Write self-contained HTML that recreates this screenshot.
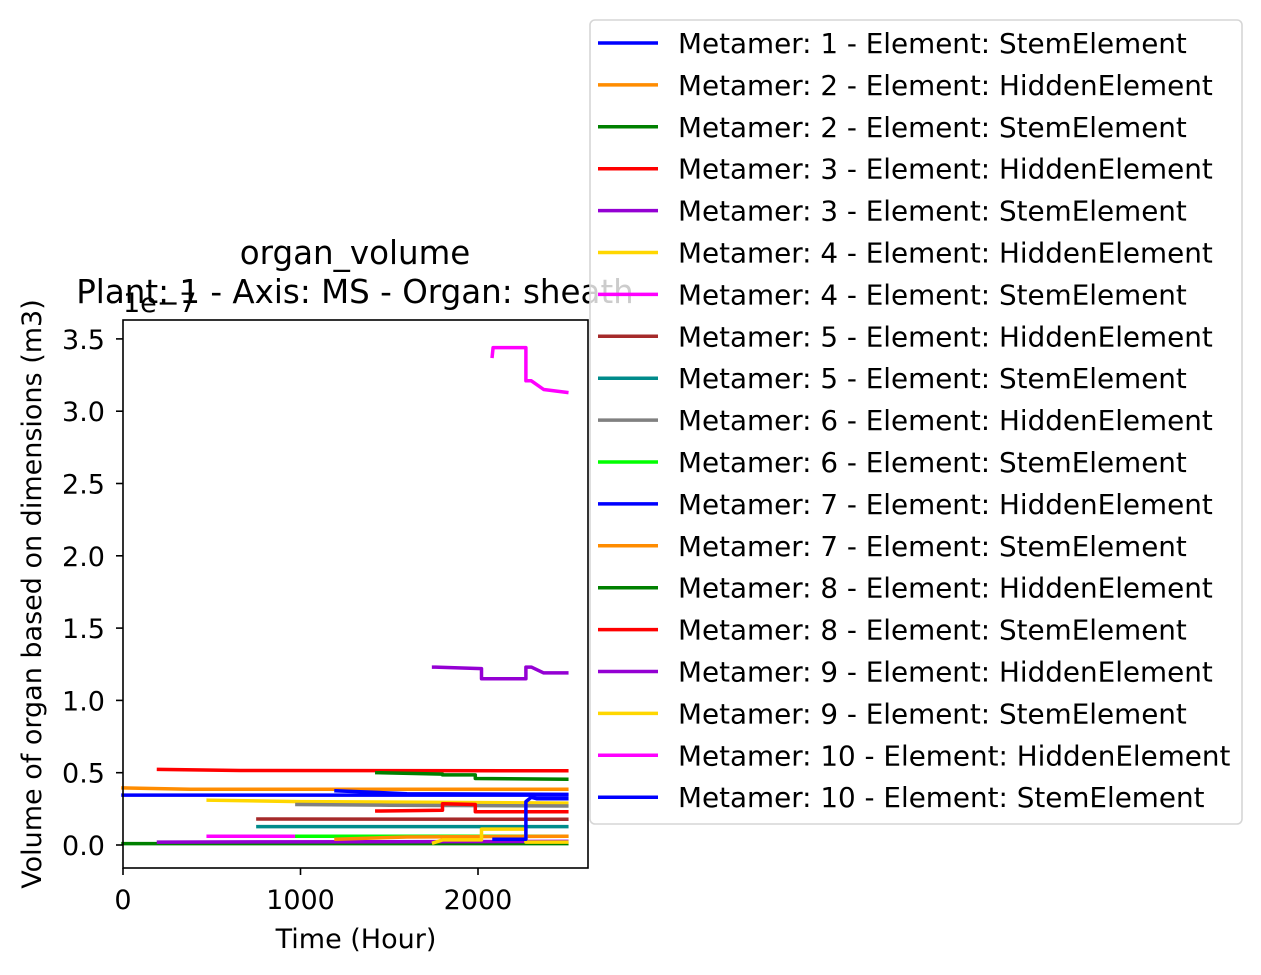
<!DOCTYPE html>
<html><head><meta charset="utf-8"><style>
body{margin:0;background:#fff;}
svg{display:block;font-family:"DejaVu Sans","Liberation Sans",sans-serif;}
</style></head><body>
<svg id="chart" width="1261" height="975" xmlns="http://www.w3.org/2000/svg">
<rect width="1261" height="975" fill="#fff"/>
</svg>
<script>
const seriesNames=["Metamer: 1 - Element: StemElement","Metamer: 2 - Element: HiddenElement","Metamer: 2 - Element: StemElement","Metamer: 3 - Element: HiddenElement","Metamer: 3 - Element: StemElement","Metamer: 4 - Element: HiddenElement","Metamer: 4 - Element: StemElement","Metamer: 5 - Element: HiddenElement","Metamer: 5 - Element: StemElement","Metamer: 6 - Element: HiddenElement","Metamer: 6 - Element: StemElement","Metamer: 7 - Element: HiddenElement","Metamer: 7 - Element: StemElement","Metamer: 8 - Element: HiddenElement","Metamer: 8 - Element: StemElement","Metamer: 9 - Element: HiddenElement","Metamer: 9 - Element: StemElement","Metamer: 10 - Element: HiddenElement","Metamer: 10 - Element: StemElement"];
const seriesColors=["#0000ff","#ff8c00","#008000","#ff0000","#9400d3","#ffd700","#ff00ff","#a52a2a","#008b8b","#808080","#00ff00","#0000ff","#ff8c00","#008000","#ff0000","#9400d3","#ffd700","#ff00ff","#0000ff"];
const seriesTimes=[
[0,2500],
[0,380,2500],
[0,2500],
[200,660,2500],
[200,2500],
[480,1000,2500],
[480,990],
[760,2500],
[760,2500],
[980,1500,2500],
[980,2500],
[1200,1600,2500],
[1200,1600,2500],
[1430,1800,1800,1985,1985,2500],
[1430,1800,1800,1985,1985,2500],
[1750,1760,2020,2020,2270,2270,2300,2370,2500],
[1750,1800,1800,2020,2020,2270,2270,2500],
[2080,2085,2100,2270,2270,2300,2370,2500],
[2090,2270,2270,2300,2330,2500]];
const seriesValues=[
[0.345,0.345],
[0.395,0.385,0.385],
[0.01,0.01],
[0.523,0.515,0.513],
[0.02,0.025],
[0.31,0.30,0.29],
[0.06,0.06],
[0.18,0.178],
[0.127,0.127],
[0.28,0.275,0.27],
[0.06,0.06],
[0.375,0.355,0.35],
[0.04,0.055,0.06],
[0.50,0.49,0.485,0.485,0.46,0.455],
[0.235,0.24,0.285,0.28,0.23,0.23],
[1.23,1.23,1.22,1.15,1.15,1.23,1.23,1.19,1.19],
[0.015,0.035,0.035,0.035,0.11,0.11,0.02,0.02],
[3.38,3.44,3.44,3.44,3.21,3.21,3.15,3.13],
[0.04,0.04,0.30,0.33,0.32,0.32]];
const xTicks=[0,1000,2000];
const yTicks=[0,0.5,1.0,1.5,2.0,2.5,3.0,3.5];

const svg=document.getElementById('chart');
const NS='http://www.w3.org/2000/svg';
const L=123,R=588,T=320,B=868;
const xs=t=>L+t*0.1775;
const ys=v=>845-v*144.6;
function mk(tag,attrs,parent){const e=document.createElementNS(NS,tag);for(const k in attrs)e.setAttribute(k,attrs[k]);(parent||svg).appendChild(e);return e;}

const plot=mk('g',{});


seriesTimes.forEach((ts,i)=>{
  const d=ts.map((t,j)=>(j?'L':'M')+xs(t).toFixed(1)+','+ys(seriesValues[i][j]).toFixed(1)).join(' ');
  const p=mk('path',{d:d,fill:'none',stroke:seriesColors[i],'stroke-width':3.5,'stroke-linejoin':'round','stroke-linecap':'square'},plot);
  
  
});
const frame=mk('rect',{x:L,y:T,width:R-L,height:B-T,fill:'none',stroke:'#000','stroke-width':1.6});



xTicks.forEach(t=>{
  const x=xs(t);
  mk('line',{x1:x,x2:x,y1:B,y2:B+7,stroke:'#000','stroke-width':1.6});
  const tx=mk('text',{x:x,y:B+41,'font-size':27,'text-anchor':'middle'});
  tx.textContent=t;
  
  
});
yTicks.forEach(v=>{
  const y=ys(v);
  mk('line',{x1:L-7,x2:L,y1:y,y2:y,stroke:'#000','stroke-width':1.6});
  const tx=mk('text',{x:L-18,y:y+10,'font-size':27,'text-anchor':'end'});
  tx.textContent=v.toFixed(1);
  
  
});
function txt(s,attrs,name){const e=mk('text',attrs);e.textContent=s;return e;}
txt('1e−7',{x:123,y:312,'font-size':27},'y-offset-label');
txt('organ_volume',{x:355,y:264,'font-size':32.5,'text-anchor':'middle'},'chart-title');
txt('Plant: 1 - Axis: MS - Organ: sheath',{x:355,y:303,'font-size':32.5,'text-anchor':'middle'},'chart-subtitle');
txt('Time (Hour)',{x:356,y:948,'font-size':27,'text-anchor':'middle'},'x-axis-title');
txt('Volume of organ based on dimensions (m3)',{x:0,y:0,'font-size':27,'text-anchor':'middle',transform:'translate(41,594) rotate(-90)'},'y-axis-title');

const lg=mk('g',{});


mk('rect',{x:590,y:20,width:652,height:804,rx:5,fill:'#fff','fill-opacity':0.8,stroke:'#d6d6d6','stroke-width':1.6},lg);
seriesNames.forEach((n,i)=>{
  const y=43+i*41.9;
  const g=mk('g',{},lg);
  
  
  mk('line',{x1:598,x2:658,y1:y,y2:y,stroke:seriesColors[i],'stroke-width':3.5},g);
  const t=mk('text',{x:678,y:y+10,'font-size':27.8},g);
  t.textContent=n;
});
</script>
</body></html>
